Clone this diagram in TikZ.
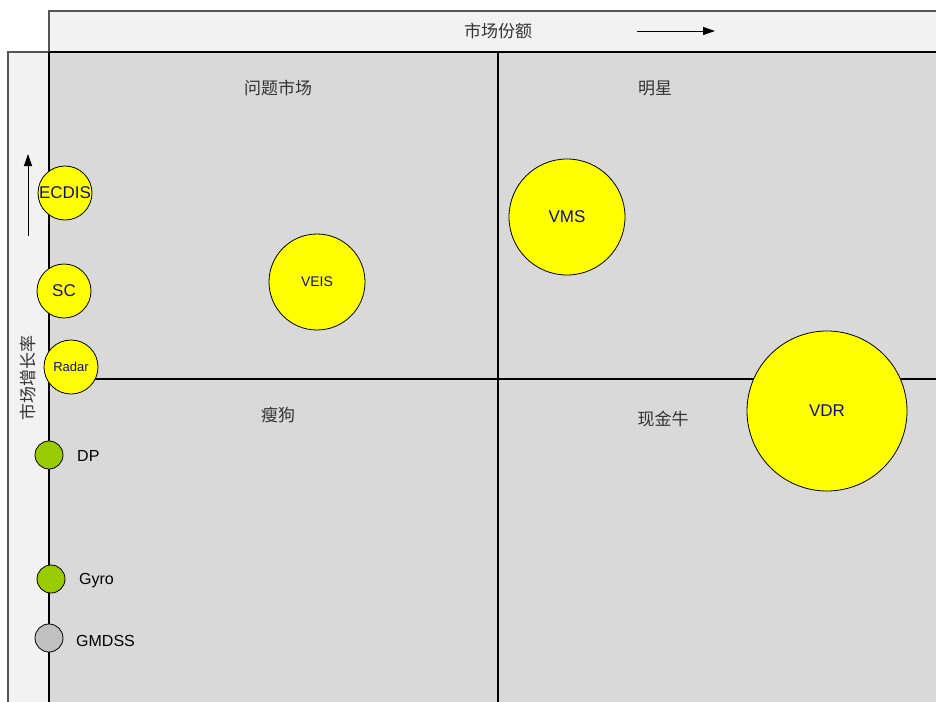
\documentclass[tikz,border=0pt]{standalone}
\usepackage{fontspec}
\setmainfont{Liberation Sans}
\newfontfamily\cjk{Noto Sans CJK SC}
\usetikzlibrary{arrows.meta}
\definecolor{barfill}{HTML}{F2F2F2}
\definecolor{mainfill}{HTML}{D9D9D9}
\definecolor{bubble}{HTML}{FFFF00}
\definecolor{greenb}{HTML}{99CC00}
\definecolor{greyb}{HTML}{C0C0C0}
\definecolor{navytext}{HTML}{10107A}
\definecolor{boxline}{HTML}{555555}
\tikzset{
  barbox/.style={draw=boxline, line width=1.3pt, fill=barfill},
  divider/.style={draw=black, line width=1.3pt},
  quadlabel/.style={font=\cjk\fontsize{17}{17}\selectfont, text=black!80, inner sep=0pt},
  bubblenode/.style={circle, draw=black, line width=0.8pt, fill=bubble, inner sep=0pt, text=navytext, font=\fontsize{15}{15}\selectfont},
  smallbub/.style={circle, draw=black, line width=0.8pt, inner sep=0pt, minimum size=28pt},
  sidelabel/.style={font=\fontsize{16}{16}\selectfont, text=black, inner sep=0pt, anchor=west},
  axisarrow/.style={draw=black, line width=0.9pt, -{Triangle[length=12pt,width=8pt]}}
}
\begin{document}
\begin{tikzpicture}[x=1pt,y=-1pt]
\useasboundingbox (0,0) rectangle (936,701);
\begin{scope}
\clip (0,0) rectangle (936,701);
% bars
\draw[barbox] (49,11) rectangle (960,52);
\draw[barbox] (8,52) rectangle (49,720);
% main area
\fill[mainfill] (49,52) rectangle (960,720);
\draw[divider] (49,52) -- (960,52);
\draw[divider] (49,52) -- (49,720);
\draw[divider] (498,52) -- (498,720);
\draw[divider] (49,379) -- (960,379);
% axis labels and arrows
\node[quadlabel] (share) at (498,31) {市场份额};
\coordinate (sA) at (637,31);
\coordinate (sB) at (715,31);
\draw[axisarrow] (sA) -- (sB);
\node[quadlabel, rotate=90] (growth) at (28,378) {市场增长率};
\coordinate (gA) at (28,236);
\coordinate (gB) at (28,154);
\draw[axisarrow] (gA) -- (gB);
% quadrant labels
\node[quadlabel] (q1) at (278,88) {问题市场};
\node[quadlabel] (q2) at (655,88) {明星};
\node[quadlabel] (q3) at (278,415) {瘦狗};
\node[quadlabel] (q4) at (663,419) {现金牛};
% bubbles
\node[bubblenode, minimum size=54pt, font=\fontsize{17}{17}\selectfont] (ecdis) at (65,193) {ECDIS};
\node[bubblenode, minimum size=54pt, font=\fontsize{17}{17}\selectfont] (sc) at (64,291) {SC};
\node[bubblenode, minimum size=54pt, font=\fontsize{13}{13}\selectfont] (radar) at (71,367) {Radar};
\node[bubblenode, minimum size=96pt, font=\fontsize{14}{14}\selectfont] (veis) at (317,282) {VEIS};
\node[bubblenode, minimum size=116pt, font=\fontsize{17}{17}\selectfont] (vms) at (567,217) {VMS};
\node[bubblenode, minimum size=160pt, font=\fontsize{17}{17}\selectfont] (vdr) at (827,411) {VDR};
% small bubbles
\node[smallbub, fill=greenb] (dp) at (49,455) {};
\node[sidelabel] (dpl) at (77,456) {DP};
\node[smallbub, fill=greenb] (gyro) at (51,579) {};
\node[sidelabel] (gyrol) at (79,581) {Gyro};
\node[smallbub, fill=greyb] (gmdss) at (49,638) {};
\node[sidelabel] (gmdssl) at (76,641) {GMDSS};
\end{scope}
\end{tikzpicture}
\end{document}
